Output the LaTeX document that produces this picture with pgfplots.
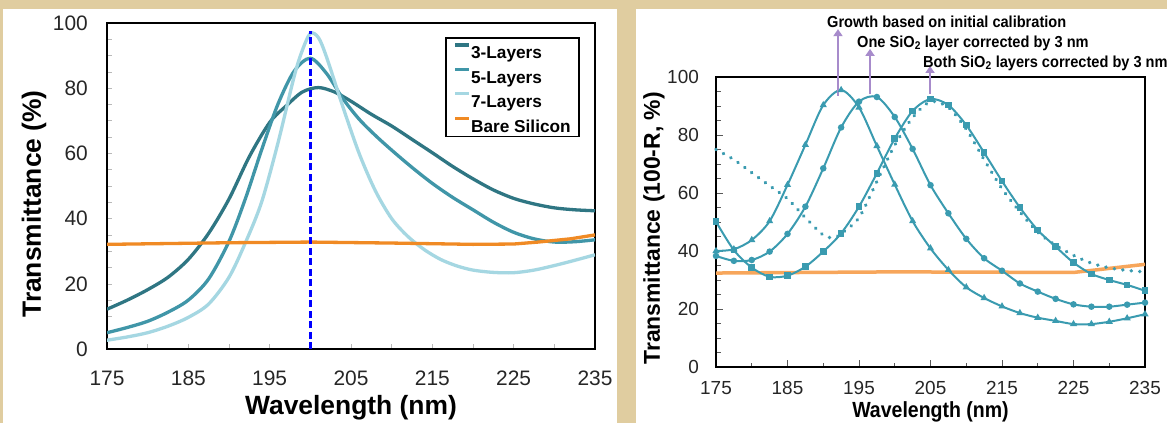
\documentclass[border=0pt]{standalone}
\usepackage{fontspec}
\setmainfont{Liberation Sans}
\usepackage{graphicx}
\usepackage{pgfplots}
\pgfplotsset{compat=1.18}
\usetikzlibrary{arrows.meta}

\definecolor{tanbg}{RGB}{224,205,160}
\definecolor{cthree}{RGB}{47,118,131}
\definecolor{cfive}{RGB}{64,150,168}
\definecolor{cseven}{RGB}{165,215,226}
\definecolor{orgL}{RGB}{240,138,36}
\definecolor{tealR}{RGB}{58,155,176}
\definecolor{orgR}{RGB}{247,166,91}
\definecolor{purp}{RGB}{167,139,203}

\begin{document}
\begin{tikzpicture}[x=1bp,y=1bp]
\fill[tanbg] (0,0) rectangle (1167,423);
\fill[white] (3,0) rectangle (617,414);
\fill[white] (636,0) rectangle (1167,414);

% ---------------- Left chart ----------------
\begin{axis}[
  at={(107bp,74bp)}, anchor=south west,
  scale only axis, width=488bp, height=326bp,
  xmin=175, xmax=235, ymin=0, ymax=100,
  xtick={175,185,...,235}, ytick={0,20,...,100},
  minor x tick num=1, minor y tick num=3,
  tick align=inside, xtick pos=bottom, ytick pos=left,
  major tick length=5bp, minor tick length=5bp,
  tick style={gray!55, line width=0.6bp},
  axis line style={line width=1.6bp, black},
  /pgf/number format/assume math mode=true,
  /pgf/number format/1000 sep={},
  ticklabel style={font=\fontsize{21}{24}\selectfont, text=black!85},
  xticklabel style={anchor=center, yshift=-29bp, inner sep=0pt},
  yticklabel style={anchor=east, xshift=-19bp, inner sep=0pt},
  xlabel={Wavelength (nm)}, ylabel={Transmittance (\%)},
  label style={font=\bfseries\fontsize{26.5}{30}\selectfont},
  xlabel style={at={(axis description cs:0.5,-0.181)}, anchor=center},
  ylabel style={at={(axis description cs:-0.1496,0.445)}, anchor=center},
  legend style={at={(axis description cs:0.6926,0.957)}, anchor=north west,
    draw=black, line width=1.6bp, fill=white,
    font=\bfseries\fontsize{17.3}{20}\selectfont,
    inner xsep=8bp, inner ysep=4.4bp, row sep=7.8bp,
    nodes={inner sep=0pt, text height=16.6bp, text depth=0bp},
    /tikz/every even column/.style={column sep=1bp}},
  legend cell align=left,
  legend image code/.code={\draw[#1, line width=3.3bp] (0bp,5.5bp) -- (14bp,5.5bp);},
]
\addplot[cthree, line width=3.3bp, smooth] coordinates {
(175,12.2) (177.5,15) (180,18.2) (182.5,22) (185,27.5) (187.5,35.5) (190,46) (192.5,59)
(195,69.5) (197,74.5) (199,78.8) (201,80.2) (203,78.8) (205,76) (207.5,72) (210,68.4)
(212.5,64.3) (215,60.2) (217.5,56) (220,52.2) (222.5,48.8) (225,46.2) (227.5,44.5)
(230,43.3) (232.5,42.7) (235,42.4)};
\addlegendentry{3-Layers}
\addplot[cfive, line width=3.3bp, smooth] coordinates {
(175,5) (177.5,6.6) (180,8.5) (182.5,11.3) (185,15) (187.5,21.5) (190,33) (192,46)
(194,61) (196,75) (198,85.2) (200,89.2) (202,84.5) (204,76.8) (206,70.5) (208,65.5)
(210,61) (212.5,55.7) (215,50.8) (217.5,46.5) (220,42.7) (222.5,38.9) (225,35.8)
(227.5,33.8) (230,32.8) (232.5,32.9) (235,33.5)};
\addlegendentry{5-Layers}
\addplot[cseven, line width=3.3bp, smooth] coordinates {
(175,2.7) (177.5,3.7) (180,5) (182.5,7) (185,9.7) (187.5,13.8) (190,22) (192,32.5)
(194,45) (196,63) (198,83.5) (199,91.5) (200,96.8) (201,95.5) (202,89.5) (204,74.3)
(206,60) (208,48.5) (210,40) (212,34.5) (214,30.5) (216,27.5) (218,25.5) (220,24.2)
(222.5,23.5) (225,23.4) (227.5,24.2) (230,25.6) (232.5,27.2) (235,28.9)};
\addlegendentry{7-Layers}
\addplot[orgL, line width=3.3bp] coordinates {
(175,32.1) (190,32.6) (200,32.8) (210,32.5) (220,32.1) (225,32.2) (228,32.8) (232,33.8) (235,35)};
\addlegendentry{Bare Silicon}
\addplot[blue, line width=2.4bp, dash pattern=on 7bp off 3.5bp, forget plot] coordinates {(200,0) (200,97.6)};
\end{axis}

% ---------------- Right chart ----------------
\begin{axis}[
  at={(716bp,56bp)}, anchor=south west,
  scale only axis, width=429bp, height=290bp,
  xmin=175, xmax=235, ymin=0, ymax=100,
  xtick={175,185,...,235}, ytick={0,20,...,100},
  minor x tick num=1, minor y tick num=3,
  tick align=inside, xtick pos=bottom, ytick pos=left,
  major tick length=7bp, minor tick length=4.5bp,
  tick style={black!65, line width=0.7bp},
  axis line style={line width=2bp, black},
  clip=false,
  /pgf/number format/assume math mode=true,
  /pgf/number format/1000 sep={},
  ticklabel style={font=\fontsize{19}{22}\selectfont, text=black!85},
  xticklabel style={anchor=center, yshift=-21bp, inner sep=0pt},
  yticklabel style={anchor=east, xshift=-17bp, inner sep=0pt},
  xlabel={\scalebox{0.89}[1]{Wavelength (nm)}}, ylabel={Transmittance (100-R, \%)},
  xlabel style={font=\bfseries\fontsize{22}{25}\selectfont, at={(axis description cs:0.5,-0.155)}, anchor=center},
  ylabel style={font=\bfseries\fontsize{23}{26}\selectfont, at={(axis description cs:-0.1445,0.478)}, anchor=center},
]
\addplot[orgR, line width=3.5bp] coordinates {
(175,32.4) (200,32.8) (225,32.6) (227.5,33.3) (230,34) (235,35.4)};
\addplot[tealR, line width=3.8bp, smooth, dash pattern=on 0.01bp off 8.5bp, line cap=round] coordinates {
(175,75) (177.5,71.5) (180,67) (182.5,62.5) (185,58) (187.5,51.5) (190,45.5) (191.5,44.6)
(192.5,46) (195,51.5) (197.5,64) (200,76.5) (202.5,86) (205,91.5) (207.5,89.5) (210,82)
(212.5,71.5) (215,61.5) (217.5,53.5) (220,46.5) (222.5,42) (225,38.5) (227.5,35.8)
(230,34.2) (232.5,33.3) (235,32.8)};
\addplot[tealR, line width=2bp, smooth, mark=square*, mark size=2.3bp, mark options={solid}] coordinates {
(175,50.1) (177.5,40.3) (180,34.3) (182.5,31.1) (185,31.5) (187.5,34.6) (190,39.8)
(192.5,46.1) (195,55.3) (197.5,66.8) (200,78.8) (202.5,88.3) (205,92.4) (207.5,90.3)
(210,83.4) (212.5,73.9) (215,64.1) (217.5,55) (220,47.2) (222.5,41.5) (225,36) (227.5,32.1)
(230,30) (232.5,28.3) (235,26.3)};
\addplot[tealR, line width=2bp, smooth, mark=*, mark size=2.2bp, mark options={solid}] coordinates {
(175,38.3) (177.5,36.6) (180,36.9) (182.5,39.8) (185,45.9) (187.5,55.3) (190,68.5)
(192.5,82.6) (195,91.5) (197.5,93.1) (200,86.2) (202.5,75.2) (205,62.7) (207.5,53)
(210,44.2) (212.5,37.5) (215,33.2) (217.5,28.8) (220,26) (222.5,23.5) (225,21.6)
(227.5,20.8) (230,20.8) (232.5,21.5) (235,22.2)};
\addplot[tealR, line width=2bp, smooth, mark=triangle*, mark size=2.2bp, mark options={solid}] coordinates {
(175,40) (177.5,40.6) (180,43.8) (182.5,50.3) (185,62.8) (187.5,76.6) (190,90.3)
(192.5,95.5) (195,89.5) (197.5,76.2) (200,62.9) (202.5,50.3) (205,40.9) (207.5,33.5)
(210,27.5) (212.5,23.8) (215,20.9) (217.5,18.6) (220,17) (222.5,15.9) (225,14.8)
(227.5,14.8) (230,15.6) (232.5,16.8) (235,18.2)};

\draw[purp, line width=2.5bp, -{Triangle[length=7bp, width=9bp]}] (axis cs:192.06,93.5) -- (axis cs:192.06,116.5);
\draw[purp, line width=2.5bp, -{Triangle[length=7bp, width=9bp]}] (axis cs:196.54,94) -- (axis cs:196.54,109.7);
\draw[purp, line width=2.5bp, -{Triangle[length=7bp, width=9bp]}] (axis cs:204.93,94.3) -- (axis cs:204.93,103.8);

\node[anchor=west, inner sep=0pt, font=\bfseries\fontsize{16}{18}\selectfont] at (axis cs:190.52,119)
  {\scalebox{0.915}[1]{Growth based on initial calibration}};
\node[anchor=west, inner sep=0pt, font=\bfseries\fontsize{16}{18}\selectfont] at (axis cs:194.72,111.7)
  {\scalebox{0.915}[1]{One SiO\textsubscript{2} layer corrected by 3 nm}};
\node[anchor=west, inner sep=0pt, font=\bfseries\fontsize{16}{18}\selectfont] at (axis cs:203.95,104.8)
  {\scalebox{0.915}[1]{Both SiO\textsubscript{2} layers corrected by 3 nm}};
\end{axis}

\pgfresetboundingbox
\path[use as bounding box] (0,0) rectangle (1167,423);
\end{tikzpicture}
\end{document}
